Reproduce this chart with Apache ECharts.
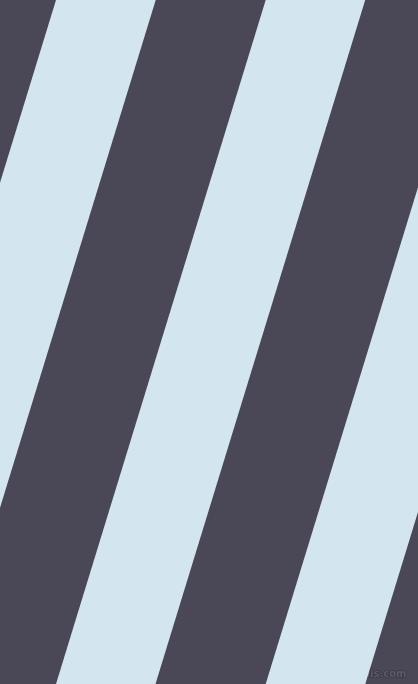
<!DOCTYPE html>
<html>
<head>
<meta charset="utf-8">
<title>stripes</title>
<style>
	html, body { margin: 0; padding: 0; background: #4a4857; }
	#main { width: 418px; height: 684px; }
</style>
</head>
<body>
<div id="main"></div>
<script src="https://cdn.jsdelivr.net/npm/echarts@6/dist/echarts.min.js"></script>
<script>
// stripe edges measured along the top edge (x at y = 0)
var stripeStart = [56, 265.7, 475.4];
var stripeEnd = [155.7, 365.2, 575];
// how far each edge has moved left by the bottom edge (y = 684)
var bottomShift = [-209.7, -209.7, -209.7];
var frameW = 418;
var frameH = 684;

var stripeData = stripeStart.map(function (s, i) {
	return [s, stripeEnd[i], bottomShift[i]];
});

var chart = echarts.init(document.getElementById('main'));
chart.setOption({
	backgroundColor: '#4a4857',
	animation: false,
	grid: { left: 0, right: 0, top: 0, bottom: 0 },
	xAxis: { type: 'value', min: 0, max: frameW, show: false },
	yAxis: { type: 'value', min: 0, max: frameH, inverse: true, show: false },
	series: [{
		type: 'custom',
		clip: true,
		data: stripeData,
		renderItem: function (params, api) {
			var s = api.value(0), e = api.value(1), d = api.value(2);
			var pts = [
				api.coord([s, 0]),
				api.coord([e, 0]),
				api.coord([e + d, frameH]),
				api.coord([s + d, frameH])
			];
			return {
				type: 'polygon',
				shape: { points: pts },
				style: { fill: '#d3e6f0' }
			};
		}
	}],
	graphic: [{
		type: 'text',
		right: 11,
		bottom: 4,
		style: {
			text: 'pixlis.com',
			font: 'bold 10px "DejaVu Sans"',
			fill: '#5d5b68',
			stroke: '#33313d',
			lineWidth: 1
		}
	}]
});
</script>
</body>
</html>
